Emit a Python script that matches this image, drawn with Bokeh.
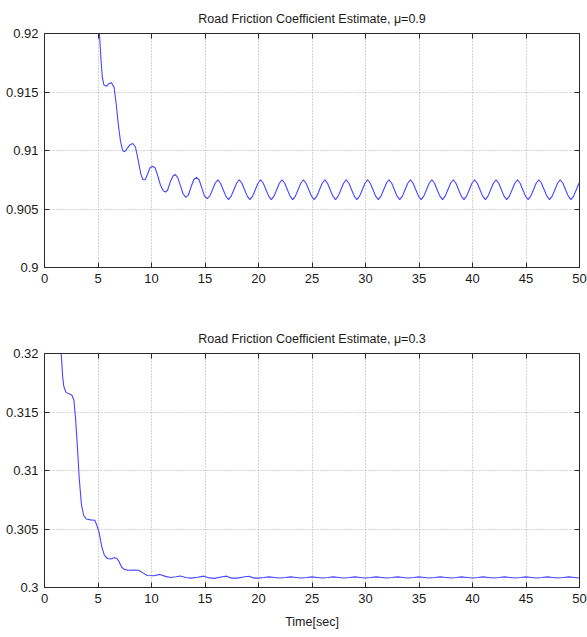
from bokeh.plotting import figure
from bokeh.layouts import column
from bokeh.models import Range1d, FixedTicker, LinearAxis, CustomJSTickFormatter
from bokeh.embed import file_html
from bokeh.resources import INLINE

FONT = "Liberation Sans"

# ---------------- data: mu = 0.9 ----------------
t_top = [4.9, 5.1, 5.2, 5.3, 5.4, 5.55, 5.8, 6.0, 6.25, 6.5, 6.7, 6.9, 7.1, 7.3, 7.5,
         7.75, 8.0, 8.25, 8.5, 8.75, 9.0, 9.2, 9.4, 9.6, 9.85, 10.1, 10.35, 10.6, 10.85,
         11.1, 11.3, 11.5, 11.75, 12.0, 12.2, 12.45, 12.7, 12.95, 13.2, 13.45, 13.7,
         13.95, 14.2, 14.45, 14.7, 14.95, 15.2,
         15.45, 15.7, 15.95, 16.2, 16.45, 16.7, 16.95, 17.2,
         17.45, 17.7, 17.95, 18.2, 18.45, 18.7, 18.95, 19.2,
         19.45, 19.7, 19.95, 20.2, 20.45, 20.7, 20.95, 21.2,
         21.45, 21.7, 21.95, 22.2, 22.45, 22.7, 22.95, 23.2,
         23.45, 23.7, 23.95, 24.2, 24.45, 24.7, 24.95, 25.2,
         25.45, 25.7, 25.95, 26.2, 26.45, 26.7, 26.95, 27.2,
         27.45, 27.7, 27.95, 28.2, 28.45, 28.7, 28.95, 29.2,
         29.45, 29.7, 29.95, 30.2, 30.45, 30.7, 30.95, 31.2,
         31.45, 31.7, 31.95, 32.2, 32.45, 32.7, 32.95, 33.2,
         33.45, 33.7, 33.95, 34.2, 34.45, 34.7, 34.95, 35.2,
         35.45, 35.7, 35.95, 36.2, 36.45, 36.7, 36.95, 37.2,
         37.45, 37.7, 37.95, 38.2, 38.45, 38.7, 38.95, 39.2,
         39.45, 39.7, 39.95, 40.2, 40.45, 40.7, 40.95, 41.2,
         41.45, 41.7, 41.95, 42.2, 42.45, 42.7, 42.95, 43.2,
         43.45, 43.7, 43.95, 44.2, 44.45, 44.7, 44.95, 45.2,
         45.45, 45.7, 45.95, 46.2, 46.45, 46.7, 46.95, 47.2,
         47.45, 47.7, 47.95, 48.2, 48.45, 48.7, 48.95, 49.2,
         49.45, 49.7, 49.95, 50.2]
mu_top = [0.9240, 0.9205, 0.9190, 0.9175, 0.9163, 0.9156, 0.9155, 0.9157, 0.9158, 0.9154,
          0.9140, 0.9122, 0.9108, 0.9100, 0.9099, 0.9102, 0.9105, 0.9106, 0.9103, 0.9092,
          0.9080, 0.9075, 0.9075, 0.9079, 0.9085, 0.90866, 0.9085, 0.9078, 0.9070,
          0.90655, 0.90645, 0.9066, 0.9073, 0.9078, 0.90795, 0.9077, 0.9070, 0.9063,
          0.9060, 0.9062, 0.9069, 0.9075, 0.9077, 0.9075, 0.9068, 0.9061, 0.9059,
          0.9061, 0.90665, 0.9072, 0.9075, 0.9072, 0.90665, 0.9061, 0.9058,
          0.9061, 0.90665, 0.9072, 0.9075, 0.9072, 0.90665, 0.9061, 0.9058,
          0.9061, 0.90665, 0.9072, 0.9075, 0.9072, 0.90665, 0.9061, 0.9058,
          0.9061, 0.90665, 0.9072, 0.9075, 0.9072, 0.90665, 0.9061, 0.9058,
          0.9061, 0.90665, 0.9072, 0.9075, 0.9072, 0.90665, 0.9061, 0.9058,
          0.9061, 0.90665, 0.9072, 0.9075, 0.9072, 0.90665, 0.9061, 0.9058,
          0.9061, 0.90665, 0.9072, 0.9075, 0.9072, 0.90665, 0.9061, 0.9058,
          0.9061, 0.90665, 0.9072, 0.9075, 0.9072, 0.90665, 0.9061, 0.9058,
          0.9061, 0.90665, 0.9072, 0.9075, 0.9072, 0.90665, 0.9061, 0.9058,
          0.9061, 0.90665, 0.9072, 0.9075, 0.9072, 0.90665, 0.9061, 0.9058,
          0.9061, 0.90665, 0.9072, 0.9075, 0.9072, 0.90665, 0.9061, 0.9058,
          0.9061, 0.90665, 0.9072, 0.9075, 0.9072, 0.90665, 0.9061, 0.9058,
          0.9061, 0.90665, 0.9072, 0.9075, 0.9072, 0.90665, 0.9061, 0.9058,
          0.9061, 0.90665, 0.9072, 0.9075, 0.9072, 0.90665, 0.9061, 0.9058,
          0.9061, 0.90665, 0.9072, 0.9075, 0.9072, 0.90665, 0.9061, 0.9058,
          0.9061, 0.90665, 0.9072, 0.9075, 0.9072, 0.90665, 0.9061, 0.9058,
          0.9061, 0.90665, 0.9072, 0.9075, 0.9072, 0.90665, 0.9061, 0.9058,
          0.9061, 0.90665, 0.9072, 0.9075]

# ---------------- data: mu = 0.3 ----------------
t_bot = [1.3, 1.56, 1.7, 1.8, 2.0, 2.3, 2.55, 2.75, 2.9, 3.05, 3.25, 3.45, 3.65, 3.9,
         4.3, 4.7, 4.9, 5.1, 5.35, 5.6, 5.9, 6.2, 6.5, 6.75, 6.95, 7.2, 7.45, 7.8, 8.3,
         8.8, 9.2, 9.6, 10.2, 10.8, 11.3, 11.8, 12.3, 12.7, 13.2, 13.7, 14.3, 14.9, 15.4,
         15.9, 16.5, 17.0, 17.5, 18.0, 18.6, 19.1, 19.6, 20.0,
         20.5, 21.0, 21.5, 22.0, 22.5, 23.0, 23.5, 24.0, 24.5, 25.0, 25.5, 26.0,
         26.5, 27.0, 27.5, 28.0, 28.5, 29.0, 29.5, 30.0, 30.5, 31.0, 31.5, 32.0,
         32.5, 33.0, 33.5, 34.0, 34.5, 35.0, 35.5, 36.0, 36.5, 37.0, 37.5, 38.0,
         38.5, 39.0, 39.5, 40.0, 40.5, 41.0, 41.5, 42.0, 42.5, 43.0, 43.5, 44.0,
         44.5, 45.0, 45.5, 46.0, 46.5, 47.0, 47.5, 48.0, 48.5, 49.0, 49.5, 50.0]
mu_bot = [0.3240, 0.3200, 0.3180, 0.3172, 0.3167, 0.31655, 0.31645, 0.3160, 0.3145,
          0.3124, 0.3093, 0.3071, 0.3062, 0.30585, 0.30578, 0.30575, 0.3053, 0.3047,
          0.3035, 0.30275, 0.30248, 0.30243, 0.30255, 0.30250, 0.30225, 0.30175,
          0.30155, 0.30148, 0.30150, 0.30148, 0.30125, 0.30102, 0.30100, 0.30112,
          0.30095, 0.30085, 0.30092, 0.30098, 0.30085, 0.30080, 0.30088, 0.30097,
          0.30082, 0.30078, 0.30090, 0.30097, 0.30080, 0.30080, 0.30090, 0.30096,
          0.30080, 0.30080,
          0.30085, 0.30091, 0.30086, 0.30081, 0.30085, 0.30091, 0.30086, 0.30081,
          0.30085, 0.30091, 0.30086, 0.30081, 0.30085, 0.30091, 0.30086, 0.30081,
          0.30085, 0.30091, 0.30086, 0.30081, 0.30085, 0.30091, 0.30086, 0.30081,
          0.30085, 0.30091, 0.30086, 0.30081, 0.30085, 0.30091, 0.30086, 0.30081,
          0.30085, 0.30091, 0.30086, 0.30081, 0.30085, 0.30091, 0.30086, 0.30081,
          0.30085, 0.30091, 0.30086, 0.30081, 0.30085, 0.30091, 0.30086, 0.30081,
          0.30085, 0.30091, 0.30086, 0.30081, 0.30085, 0.30091, 0.30086, 0.30081,
          0.30085, 0.30091, 0.30086, 0.30081, 0.30085, 0.30091, 0.30086, 0.30081]

x_ticks = [0, 5, 10, 15, 20, 25, 30, 35, 40, 45, 50]
y_ticks_top = [0.9, 0.905, 0.91, 0.915, 0.92]
y_ticks_bot = [0.3, 0.305, 0.31, 0.315, 0.32]

title_top = "Road Friction Coefficient Estimate, \u03bc=0.9"
title_bot = "Road Friction Coefficient Estimate, \u03bc=0.3"
x_label = "Time[sec]"

LINE_COLOR = "#4646ff"
AXIS_COLOR = "#2a2a2a"
GRID_COLOR = "#a8a8a8"


def make_panel(title, t, mu, yticks, border_top, border_bottom, xlabel=None):
    p = figure(frame_width=535, frame_height=234,
               x_range=Range1d(0, 50), y_range=Range1d(yticks[0], yticks[-1]),
               output_backend="svg", toolbar_location=None,
               min_border_left=44, min_border_right=8,
               min_border_top=border_top, min_border_bottom=border_bottom)
    p.add_layout(LinearAxis(), "above")
    p.add_layout(LinearAxis(), "right")
    fmt = CustomJSTickFormatter(code="return String(tick);")
    for ax in p.xaxis:
        ax.ticker = FixedTicker(ticks=x_ticks)
    for ax in p.yaxis:
        ax.ticker = FixedTicker(ticks=yticks)
    for ax in list(p.xaxis) + list(p.yaxis):
        ax.formatter = fmt
        ax.major_tick_in = 5
        ax.major_tick_out = 0
        ax.minor_tick_line_color = None
        ax.axis_line_color = AXIS_COLOR
        ax.major_tick_line_color = AXIS_COLOR
        ax.major_label_text_font = FONT
        ax.major_label_text_font_size = "13px"
        ax.major_label_text_color = "#1a1a1a"
        ax.major_label_standoff = 6
    for ax in (p.above[0], p.right[0]):
        ax.major_label_text_color = None
        ax.major_label_text_font_size = "1px"
        ax.major_label_standoff = 0
    p.xgrid.ticker = FixedTicker(ticks=x_ticks)
    p.ygrid.ticker = FixedTicker(ticks=yticks)
    for g in (p.xgrid, p.ygrid):
        g.grid_line_color = GRID_COLOR
        g.grid_line_dash = "1 2"
        g.grid_line_width = 1
    p.outline_line_color = AXIS_COLOR
    p.title.text = title
    p.title.align = "center"
    p.title.text_font = FONT
    p.title.text_font_size = "12.5px"
    p.title.text_font_style = "normal"
    p.title.text_color = "#1a1a1a"
    p.title.standoff = 15
    if xlabel:
        ax = p.below[0]
        ax.axis_label = xlabel
        ax.axis_label_text_font = FONT
        ax.axis_label_text_font_size = "12.5px"
        ax.axis_label_text_font_style = "normal"
        ax.axis_label_text_color = "#1a1a1a"
        ax.axis_label_standoff = 9
    p.line(t, mu, line_color=LINE_COLOR, line_width=1.1)
    return p


p1 = make_panel(title_top, t_top, mu_top, y_ticks_top, 33, 33)
p2 = make_panel(title_bot, t_bot, mu_bot, y_ticks_bot, 53, 50, xlabel=x_label)

layout = column(p1, p2, spacing=0)
open("out.html", "w").write(file_html(layout, INLINE))
